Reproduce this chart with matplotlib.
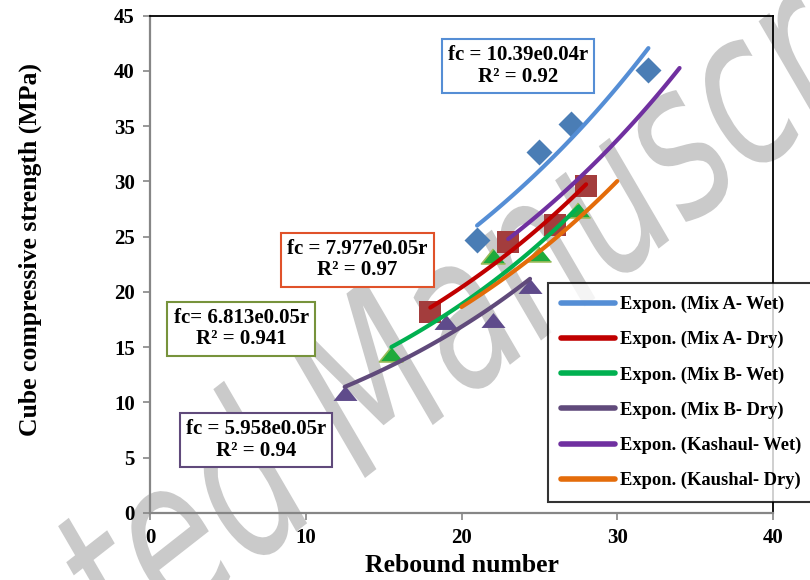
import numpy as np
import matplotlib
matplotlib.use("Agg")
import matplotlib.pyplot as plt
from matplotlib.textpath import TextPath
from matplotlib.patches import PathPatch
from matplotlib.transforms import Affine2D
from matplotlib.font_manager import FontProperties

# Measured rebound numbers (r) and cube compressive strengths (fc, MPa)
mixA_wet_r = [21, 25, 27, 32]
mixA_wet_fc = [24.7, 32.7, 35.2, 40.1]
mixA_dry_r = [18, 23, 26, 28]
mixA_dry_fc = [18.2, 24.5, 26.1, 29.6]
mixB_wet_r = [15.5, 22, 25, 27.5]
mixB_wet_fc = [14.4, 23.25, 23.4, 27.4]
mixB_dry_r = [12.5, 19, 22, 24.4]
mixB_dry_fc = [10.9, 17.3, 17.5, 20.5]

# Exponential trend lines fc = a * exp(b * r)
series_names = ["Expon. (Mix A- Wet)", "Expon. (Mix A- Dry)", "Expon. (Mix B- Wet)",
                "Expon. (Mix B- Dry)", "Expon. (Kashaul- Wet)", "Expon. (Kaushal- Dry)"]
fit_a = [10.39, 7.977, 6.813, 5.958, 8.99, 7.18]
fit_b = [0.0437, 0.047, 0.051, 0.052, 0.0441, 0.0477]
fit_r_min = [21, 18, 15.5, 12.5, 23, 20]
fit_r_max = [32, 28, 27.5, 24.4, 34, 30]
fit_r2 = ["0.92", "0.97", "0.941", "0.94"]
eq_prefix = ["fc = ", "fc = ", "fc= ", "fc = "]

line_colors = ["#558ED5", "#C00000", "#00B050", "#604A7B", "#7030A0", "#E46C0A"]
box_edges = ["#558ED5", "#E0522A", "#77933C", "#604A7B"]
box_centers = [(518, 66), (357.5, 259.5), (241.3, 328.7), (256, 440)]  # pixels

W, H = 810, 580
fig = plt.figure(figsize=(W / 100, H / 100), dpi=100)
fig.patch.set_facecolor("white")
ax = fig.add_axes([150 / W, 1 - 513 / H, (773 - 150) / W, (513 - 15.7) / H])
ax.set_facecolor("none")

serif = "Liberation Serif"

# faint diagonal stamp behind the plot, drawn in pixel coordinates
stamp = "Accepted Manuscript"
fp = FontProperties(family="DejaVu Sans", style="italic")
size = 215
m_left = (TextPath((0, 0), "Accepted M", size=size, prop=fp).get_extents().x1
          - TextPath((0, 0), "M", size=size, prop=fp).get_extents().width)
stamp_path = TextPath((0, 0), stamp, size=size, prop=fp)
stamp_tr = (Affine2D().translate(-m_left, 0).scale(0.7, 1.0)
            .rotate_deg(38).translate(365, H - 478))
stamp_patch = PathPatch(stamp_path, transform=stamp_tr, facecolor="#cacaca",
                        edgecolor="none", lw=0, zorder=-5)
fig.add_artist(stamp_patch)

# trend curves
for i in range(6):
    r = np.linspace(fit_r_min[i], fit_r_max[i], 100)
    ax.plot(r, fit_a[i] * np.exp(fit_b[i] * r), color=line_colors[i], lw=3,
            solid_capstyle="round", label=series_names[i], zorder=3)

tri = [(0, 0.62), (-1, -0.62), (1, -0.62)]
ax.scatter(mixA_wet_r, mixA_wet_fc, marker="D", s=175, color="#4A7DB5", zorder=2, linewidths=0)
ax.scatter(mixA_dry_r, mixA_dry_fc, marker="s", s=260, color="#A33D3D", zorder=2, linewidths=0)
ax.scatter(mixB_wet_r, mixB_wet_fc, marker=tri, s=300, color="#1EAA3C", edgecolors="#9BBB59",
           linewidths=1.2, zorder=2)
ax.scatter(mixB_dry_r, mixB_dry_fc, marker=tri, s=300, color="#5F4B8B", linewidths=0, zorder=2)

ax.set_xlim(0, 40)
ax.set_ylim(0, 45)
ax.set_xticks(np.arange(0, 41, 10))
ax.set_yticks(np.arange(0, 46, 5))
for s in ["left", "bottom"]:
    ax.spines[s].set_color("#868686")
    ax.spines[s].set_linewidth(1.6)
for s in ["top", "right"]:
    ax.spines[s].set_color("black")
    ax.spines[s].set_linewidth(1.3)
ax.tick_params(axis="both", direction="out", length=5, width=1.2, color="#868686",
               labelsize=15, pad=6)
for lab in ax.get_xticklabels() + ax.get_yticklabels():
    lab.set_family(serif)
    lab.set_fontweight("bold")
ax.tick_params(axis="x", pad=6)

fig.text(461.5 / W, 1 - 565 / H, "Rebound number", ha="center", va="center",
         family=serif, fontweight="bold", fontsize=18.5)
fig.text(30 / W, 1 - 250 / H, "Cube compressive strength (MPa)", ha="center", va="center",
         rotation=90, family=serif, fontweight="bold", fontsize=18.5)

# equation boxes
for i in range(4):
    txt = f"{eq_prefix[i]}{fit_a[i]}e{fit_b[i]:.2f}r\nR\u00b2 = {fit_r2[i]}"
    cx, cy = box_centers[i]
    fig.text(cx / W, 1 - cy / H, txt, ha="center", va="center", family=serif,
             fontweight="bold", fontsize=15, linespacing=1.1, zorder=6,
             bbox=dict(boxstyle="square,pad=0.3", fc="white", ec=box_edges[i], lw=1.5))

leg = ax.legend(loc="upper left", bbox_to_anchor=(548 / W, 1 - 283 / H),
                bbox_transform=fig.transFigure, frameon=True, fancybox=False,
                borderaxespad=0, borderpad=0.7, handlelength=2.9, handletextpad=0.3,
                labelspacing=0.97, prop=dict(family=serif, weight="bold", size=13.3))
leg.get_frame().set_edgecolor("black")
leg.get_frame().set_linewidth(1.5)
leg.set_zorder(7)
for h in leg.get_lines():
    h.set_linewidth(4)

fig.savefig("out.png", dpi=100)
